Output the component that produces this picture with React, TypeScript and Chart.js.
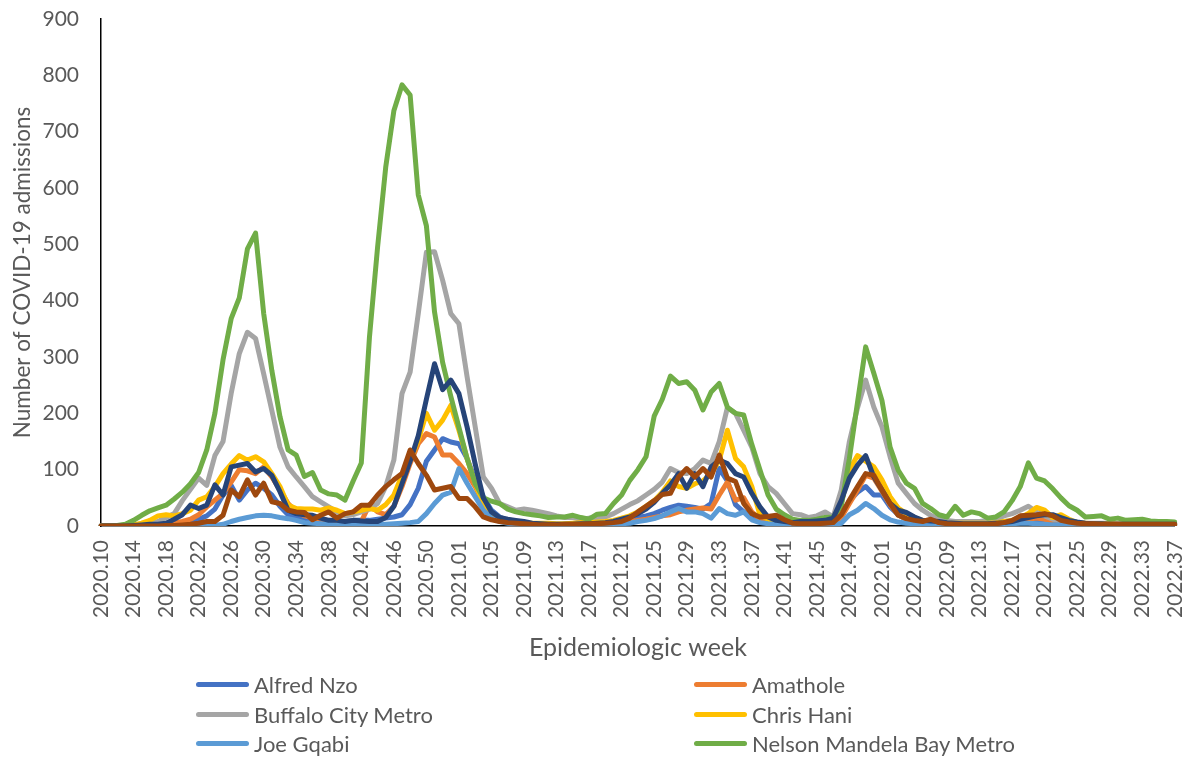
import React, { useEffect, useRef } from "react";
import { Chart, registerables } from "chart.js";

Chart.register(...registerables);

// Epidemiologic week categories: 2020.10 – 2020.53, 2021.01 – 2021.52, 2022.01 – 2022.37
const yearRanges: [number, number, number][] = [
  [2020, 10, 53],
  [2021, 1, 52],
  [2022, 1, 37],
];
const weeks: string[] = [];
yearRanges.forEach(([y, a, b]) => {
  for (let w = a; w <= b; w++) weeks.push(`${y}.${w < 10 ? "0" + w : w}`);
});

const seriesNames = [
  "Alfred Nzo",
  "Amathole",
  "Buffalo City Metro",
  "Chris Hani",
  "Joe Gqabi",
  "Nelson Mandela Bay Metro",
  "OR Tambo",
  "Sarah Baartman",
];
const seriesColors = [
  "#4472C4",
  "#ED7D31",
  "#A5A5A5",
  "#FFC000",
  "#5B9BD5",
  "#70AD47",
  "#264478",
  "#9E480E",
];
const legendShown = 6;

const alfredNzo = [
  0, 0, 0, 0, 0, 0, 1, 1, 2, 3,
  5, 8, 12, 18, 30, 55, 72, 46, 64, 76,
  67, 55, 35, 20, 15, 12, 10, 9, 8, 8,
  8, 10, 10, 10, 12, 14, 16, 20, 38, 67,
  115, 135, 155, 149, 146, 120, 82, 52, 28, 16,
  10, 8, 6, 3, 3, 2, 2, 2, 2, 3,
  3, 4, 5, 6, 8, 12, 15, 18, 22, 28,
  33, 37, 35, 33, 30, 40, 102, 80, 38, 25,
  15, 10, 6, 5, 4, 3, 3, 3, 3, 4,
  5, 15, 45, 60, 70, 55, 55, 34, 20, 12,
  8, 6, 5, 4, 4, 4, 4, 4, 4, 5,
  6, 8, 9, 10, 10, 11, 10, 8, 6, 5,
  4, 4, 3, 3, 3, 3, 3, 3, 3, 3,
  3, 3, 3,
];

const amathole = [
  0, 0, 0, 0, 0, 1, 1, 2, 2, 5,
  8, 12, 20, 34, 46, 58, 78, 100, 98, 93,
  105, 87, 64, 40, 25, 18, 15, 12, 10, 8,
  5, 5, 8, 38, 25, 20, 35, 70, 111, 146,
  164, 158, 126, 126, 111, 93, 70, 40, 20, 10,
  6, 4, 3, 3, 3, 2, 2, 2, 2, 3,
  3, 4, 4, 5, 6, 8, 10, 12, 15, 18,
  20, 25, 28, 30, 32, 30, 55, 78, 46, 50,
  25, 12, 8, 6, 4, 3, 3, 3, 3, 4,
  5, 15, 40, 64, 90, 85, 62, 38, 20, 12,
  8, 6, 5, 4, 4, 3, 3, 3, 3, 3,
  4, 5, 7, 10, 12, 14, 12, 8, 6, 5,
  4, 3, 3, 3, 3, 3, 2, 2, 2, 2,
  2, 2, 2,
];

const buffaloCity = [
  0, 0, 0, 1, 2, 3, 4, 8, 15, 22,
  45, 65, 85, 72, 125, 150, 235, 306, 344, 333,
  270, 205, 140, 105, 87, 70, 52, 43, 34, 25,
  18, 20, 25, 30, 40, 70, 117, 235, 273, 377,
  486, 487, 436, 377, 359, 265, 176, 87, 67, 40,
  34, 28, 30, 28, 25, 22, 18, 15, 15, 12,
  14, 15, 16, 22, 30, 38, 45, 55, 65, 78,
  102, 95, 93, 102, 117, 111, 150, 210, 200, 170,
  140, 93, 70, 58, 40, 22, 20, 15, 18, 25,
  16, 64, 150, 210, 259, 211, 176, 123, 76, 58,
  40, 28, 19, 12, 10, 8, 8, 8, 8, 10,
  12, 18, 22, 28, 35, 25, 18, 12, 10, 8,
  6, 5, 5, 5, 5, 4, 4, 4, 4, 4,
  4, 4, 4,
];

const chrisHani = [
  0, 0, 0, 0, 2, 5, 10, 18, 20, 18,
  22, 28, 46, 52, 70, 93, 110, 125, 117, 123,
  114, 93, 70, 37, 31, 30, 30, 28, 32, 28,
  22, 25, 28, 31, 28, 38, 55, 90, 117, 152,
  200, 170, 188, 214, 170, 120, 75, 40, 22, 12,
  8, 6, 5, 5, 5, 5, 4, 4, 5, 6,
  6, 7, 8, 10, 14, 18, 25, 35, 45, 60,
  80, 70, 67, 75, 80, 93, 117, 170, 120, 105,
  70, 20, 12, 8, 6, 5, 5, 5, 6, 6,
  8, 40, 100, 125, 115, 105, 82, 52, 32, 22,
  15, 10, 8, 6, 5, 5, 5, 5, 5, 5,
  6, 8, 10, 15, 22, 33, 28, 15, 20, 12,
  6, 5, 4, 4, 4, 3, 3, 3, 3, 3,
  3, 3, 3,
];

const joeGqabi = [
  0, 0, 0, 0, 0, 0, 0, 0, 0, 0,
  0, 0, 0, 0, 1, 3, 8, 12, 15, 18,
  19, 18, 15, 13, 10, 6, 5, 4, 3, 2,
  2, 2, 2, 3, 3, 3, 4, 5, 6, 8,
  22, 40, 55, 60, 102, 76, 52, 28, 14, 8,
  5, 4, 3, 2, 2, 2, 2, 2, 2, 2,
  2, 2, 2, 3, 4, 5, 8, 10, 13, 18,
  25, 31, 25, 25, 22, 14, 31, 22, 19, 25,
  11, 6, 4, 3, 2, 2, 2, 2, 2, 2,
  2, 5, 20, 28, 40, 31, 19, 11, 7, 5,
  4, 3, 3, 2, 2, 2, 2, 2, 2, 2,
  2, 3, 4, 5, 5, 4, 3, 2, 2, 2,
  2, 2, 2, 2, 2, 1, 1, 1, 1, 1,
  1, 1, 1,
];

const nelsonMandelaBay = [
  0, 0, 1, 3, 10, 19, 27, 32, 37, 48,
  60, 75, 95, 135, 200, 295, 368, 405, 492, 520,
  377, 276, 194, 135, 126, 88, 95, 64, 57, 55,
  46, 80, 112, 335, 495, 637, 737, 783, 765, 588,
  533, 380, 290, 230, 175, 120, 75, 50, 44, 40,
  30, 25, 22, 20, 18, 15, 16, 16, 19, 15,
  12, 21, 22, 40, 55, 81, 100, 123, 195, 225,
  266, 253, 256, 241, 206, 238, 253, 211, 200, 197,
  145, 100, 55, 30, 20, 12, 10, 10, 12, 15,
  16, 35, 120, 220, 318, 271, 223, 140, 99, 76,
  67, 40, 31, 20, 16, 35, 19, 25, 22, 14,
  16, 25, 45, 70, 112, 85, 80, 66, 50, 36,
  28, 16, 17, 18, 12, 14, 10, 11, 12, 9,
  8, 8, 7,
];

const orTambo = [
  0, 0, 0, 0, 1, 2, 3, 3, 5, 12,
  20, 37, 31, 37, 73, 55, 105, 108, 111, 96,
  102, 90, 61, 28, 22, 20, 19, 14, 10, 10,
  8, 10, 9, 8, 8, 15, 35, 75, 115, 160,
  225, 288, 242, 259, 235, 176, 110, 50, 25, 15,
  12, 10, 8, 5, 4, 3, 3, 3, 3, 4,
  4, 5, 6, 8, 12, 16, 22, 30, 42, 58,
  73, 93, 67, 93, 70, 105, 117, 111, 93, 87,
  58, 34, 16, 10, 8, 6, 8, 8, 9, 10,
  14, 45, 85, 108, 125, 87, 64, 40, 28, 24,
  16, 10, 9, 8, 6, 5, 4, 4, 4, 4,
  5, 6, 8, 12, 15, 18, 20, 20, 15, 10,
  7, 5, 4, 4, 3, 3, 3, 3, 3, 3,
  3, 3, 3,
];

const sarahBaartman = [
  0, 0, 0, 0, 0, 0, 0, 0, 1, 1,
  2, 3, 5, 8, 8, 19, 64, 52, 82, 55,
  76, 43, 40, 28, 25, 24, 11, 19, 25, 14,
  22, 25, 37, 37, 55, 70, 82, 93, 135, 111,
  90, 64, 67, 70, 49, 49, 34, 16, 11, 8,
  6, 5, 4, 3, 2, 2, 2, 3, 3, 3,
  4, 4, 5, 6, 8, 14, 25, 35, 45, 56,
  58, 87, 102, 87, 102, 87, 126, 85, 79, 40,
  22, 16, 17, 19, 11, 5, 4, 4, 4, 5,
  6, 20, 46, 70, 93, 90, 64, 40, 19, 13,
  10, 8, 12, 6, 4, 3, 3, 3, 3, 3,
  4, 6, 10, 18, 19, 20, 22, 18, 10, 7,
  5, 4, 4, 3, 3, 3, 3, 3, 3, 3,
  3, 3, 3,
];

const seriesValues = [
  alfredNzo,
  amathole,
  buffaloCity,
  chrisHani,
  joeGqabi,
  nelsonMandelaBay,
  orTambo,
  sarahBaartman,
];

const yTicks = [0, 100, 200, 300, 400, 500, 600, 700, 800, 900];

const TEXT = "#595959";
const CAL = "Lato, 'Open Sans', sans-serif";

export default function App() {
  const ref = useRef<HTMLCanvasElement | null>(null);

  useEffect(() => {
    document.body.style.margin = "0";
    const canvas = ref.current;
    if (!canvas) return;
    const n = seriesNames.length;
    const chart = new Chart(canvas, {
      type: "line",
      data: {
        labels: weeks,
        datasets: seriesNames.map((name, k) => ({
          label: name,
          data: seriesValues[k],
          borderColor: seriesColors[k],
          backgroundColor: seriesColors[k],
          borderWidth: 5,
          pointRadius: 0,
          pointHoverRadius: 0,
          tension: 0,
          fill: false,
          borderCapStyle: "round" as const,
          borderJoinStyle: "round" as const,
          order: n - k,
        })),
      },
      options: {
        responsive: false,
        animation: false,
        devicePixelRatio: 1,
        layout: { padding: { left: 0, right: 13, top: 19, bottom: 0 } },
        plugins: {
          legend: { display: false },
          tooltip: { enabled: false },
        },
        scales: {
          x: {
            type: "category",
            offset: false,
            grid: { display: false, drawTicks: true, tickLength: 21 },
            border: { display: true, color: "#000000", width: 1.5 },
            ticks: {
              autoSkip: false,
              maxRotation: 90,
              minRotation: 90,
              padding: -7,
              color: TEXT,
              font: { family: CAL, size: 21 },
              callback: (_v: any, i: number) => (i % 4 === 0 ? weeks[i] : ""),
            },
            title: {
              display: true,
              text: "Epidemiologic week",
              color: TEXT,
              font: { family: CAL, size: 25 },
              padding: { top: 0, bottom: 95 },
            },
            afterFit: (s: any) => {
              s.height = 232;
            },
          },
          y: {
            min: 0,
            max: 900,
            afterBuildTicks: (s: any) => {
              s.ticks = yTicks.map((v) => ({ value: v }));
            },
            grid: { display: false, drawTicks: true, tickLength: 22 },
            border: { display: true, color: "#000000", width: 1.5 },
            ticks: {
              padding: 0,
              color: TEXT,
              font: { family: CAL, size: 21 },
            },
            title: {
              display: true,
              text: "Number of COVID-19 admissions",
              color: TEXT,
              font: { family: CAL, size: 22.5 },
              padding: { top: 9, bottom: 0 },
            },
            afterFit: (s: any) => {
              s.width = 101;
            },
          },
        },
      },
    });
    return () => chart.destroy();
  }, []);

  return (
    <div
      style={{
        position: "fixed",
        left: 0,
        top: 0,
        width: 1193,
        height: 758,
        background: "#ffffff",
        overflow: "hidden",
      }}
    >
      <canvas ref={ref} width={1193} height={758} style={{ display: "block", width: 1193, height: 758 }} />
      <div
        style={{
          position: "absolute",
          left: 196,
          top: 670,
          display: "grid",
          gridTemplateColumns: "498px 400px",
          gridAutoRows: "29.5px",
          fontFamily: CAL,
          fontSize: 22,
          color: TEXT,
        }}
      >
        {seriesNames.slice(0, legendShown).map((name, k) => (
          <div key={name} style={{ display: "flex", alignItems: "center", whiteSpace: "nowrap" }}>
            <span
              style={{
                display: "inline-block",
                width: 53,
                height: 5,
                borderRadius: 3,
                background: seriesColors[k],
                marginRight: 5,
              }}
            />
            <span>{name}</span>
          </div>
        ))}
      </div>
    </div>
  );
}
